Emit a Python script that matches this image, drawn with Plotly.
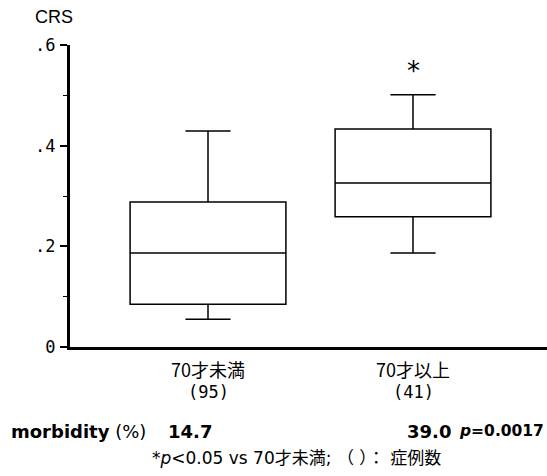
import plotly.graph_objects as go

groups = ["70才未満", "70才以上"]
counts = ["(95)", "(41)"]
lower_fence = [0.055, 0.187]
q1 = [0.085, 0.259]
median = [0.187, 0.326]
q3 = [0.288, 0.433]
upper_fence = [0.429, 0.501]
morbidity = ["14.7", "39.0"]
p_value = "0.0017"
y_ticks = [0, 0.2, 0.4, 0.6]
y_ticktext = ["0", ".2", ".4", ".6"]

W, H = 547, 476
ML, MR, MT, MB = 70, 0, 45, 129
PW, PH = W - ML - MR, H - MT - MB
x_pos = [1, 2]

def px(xp):
    return (xp - ML) / PW

def py(yp):
    return (H - MB - yp) / PH

fig = go.Figure()
for i, g in enumerate(groups):
    fig.add_trace(go.Box(
        x=[x_pos[i]], q1=[q1[i]], median=[median[i]], q3=[q3[i]],
        lowerfence=[lower_fence[i]], upperfence=[upper_fence[i]],
        width=0.76, whiskerwidth=0.29, boxpoints=False,
        fillcolor="white", line=dict(color="black", width=1.5),
        name=g, showlegend=False, hoverinfo="skip",
    ))

mono = "DejaVu Sans Mono, Liberation Mono, monospace"
cjk = "Noto Sans CJK JP, sans-serif"
dv = "DejaVu Sans, Verdana, sans-serif"

ann = []
for i, g in enumerate(groups):
    ann.append(dict(x=x_pos[i], xref="x", y=py(369), yref="paper", text=g,
                    showarrow=False, font=dict(family=cjk, size=18, color="black"),
                    xanchor="center", yanchor="middle"))
    ann.append(dict(x=x_pos[i], xref="x", y=py(392), yref="paper", text=counts[i],
                    showarrow=False, font=dict(family=mono, size=17, color="black"),
                    xanchor="center", yanchor="middle"))
# asterisk
ann.append(dict(x=x_pos[1], xref="x", y=py(71), yref="paper", text="*",
                showarrow=False, font=dict(family="DejaVu Sans", size=26, color="black"),
                xanchor="center", yanchor="middle"))
# CRS title
ann.append(dict(x=px(33), xref="paper", y=py(17), yref="paper", text="CRS",
                showarrow=False, font=dict(family="Liberation Sans, Arial", size=18, color="black"),
                xanchor="left", yanchor="middle"))
# morbidity row
ann.append(dict(x=px(9), xref="paper", y=py(431), yref="paper",
                text="<b>morbidity</b> (%)", showarrow=False,
                font=dict(family=dv, size=18, color="black"), xanchor="left", yanchor="middle"))
ann.append(dict(x=px(166), xref="paper", y=py(431), yref="paper",
                text="<b>" + morbidity[0] + "</b>", showarrow=False,
                font=dict(family=dv, size=18, color="black"), xanchor="left", yanchor="middle"))
ann.append(dict(x=px(405), xref="paper", y=py(431), yref="paper",
                text="<b>" + morbidity[1] + "</b>", showarrow=False,
                font=dict(family=dv, size=18, color="black"), xanchor="left", yanchor="middle"))
ann.append(dict(x=px(546), xref="paper", y=py(431), yref="paper",
                text="<b><i>p</i>=" + p_value + "</b>", showarrow=False,
                font=dict(family=dv, size=15.5, color="black"), xanchor="right", yanchor="middle"))
# footnote
ann.append(dict(x=px(296), xref="paper", y=py(458), yref="paper",
                text="*<i>p</i>&lt;0.05 vs 70才未満; （ ）： 症例数", showarrow=False,
                font=dict(family="DejaVu Sans, " + cjk, size=17, color="black"),
                xanchor="center", yanchor="middle"))

fig.update_layout(
    width=W, height=H,
    margin=dict(l=ML, r=MR, t=MT, b=MB),
    paper_bgcolor="white", plot_bgcolor="white",
    annotations=ann,
    xaxis=dict(range=[1 - 138 / 205, 1 - 138 / 205 + PW / 205], showticklabels=False,
               ticks="", showgrid=False, zeroline=False,
               showline=True, linecolor="black", linewidth=3),
    yaxis=dict(range=[0, 0.6], tickvals=y_ticks, ticktext=y_ticktext,
               ticks="outside", ticklen=7, tickwidth=1.5, tickcolor="black",
               tickfont=dict(family=mono, size=17, color="black"),
               ticklabelstandoff=1,
               showgrid=False, zeroline=False,
               showline=True, linecolor="black", linewidth=3,
               minor=dict(dtick=0.1, ticks="outside", ticklen=4, tickcolor="black", tickwidth=1)),
)

fig.write_html("out.html")
